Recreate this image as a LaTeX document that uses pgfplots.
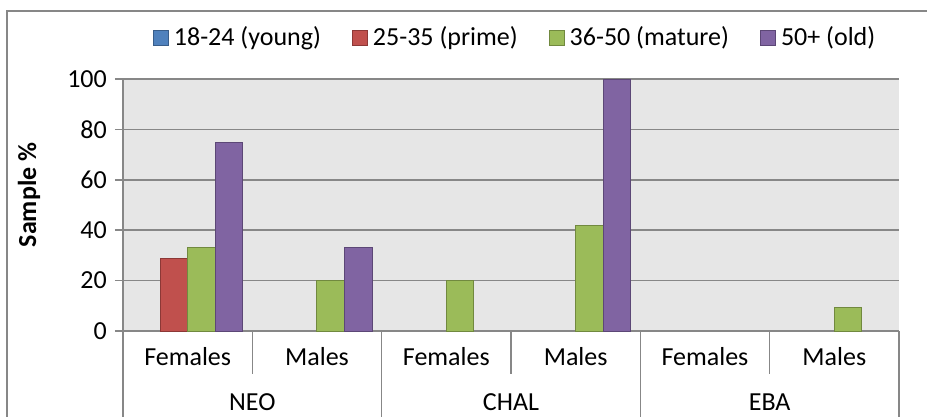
\documentclass[border=0pt]{standalone}
\usepackage{fontspec}
\setmainfont{Carlito}
\usepackage{pgfplots}
\pgfplotsset{compat=1.18}

\definecolor{xblue}{HTML}{4F81BD}   \definecolor{xblueD}{HTML}{385D8A}
\definecolor{xred}{HTML}{C0504D}    \definecolor{xredD}{HTML}{8C3836}
\definecolor{xgreen}{HTML}{9BBB59}  \definecolor{xgreenD}{HTML}{71893F}
\definecolor{xpurple}{HTML}{8064A2} \definecolor{xpurpleD}{HTML}{5C4776}
\definecolor{plotbg}{HTML}{E6E6E6}
\definecolor{linegray}{HTML}{878787}

\pgfplotsset{
  sqlegend/.style={legend image code/.code={%
    \draw[line width=1pt] (0pt,-7.5pt) rectangle (15pt,7.5pt);
    \path (18pt,0pt);}},
}

\begin{document}
\fontsize{26}{31}\selectfont
\begin{tikzpicture}[x=1pt,y=1pt]
\useasboundingbox (0,0) rectangle (927,416);
% chart border (cut off at bottom and right)
\draw[linegray, line width=2pt] (7,-5) -- (7,404.5) -- (927,404.5);

\begin{axis}[
    at={(123pt,85pt)}, anchor=south west,
    scale only axis,
    width=776pt, height=252pt,
    xmin=-0.5, xmax=5.5,
    ymin=0, ymax=100,
    ytick={0,20,...,100},
    xtick=\empty,
    axis x line*=bottom,
    axis y line*=left,
    axis line style={-, draw=linegray, line width=1.5pt},
    axis background/.style={fill=plotbg},
    ymajorgrids,
    grid style={draw=linegray, line width=1.5pt},
    tick align=outside,
    major tick length=8pt,
    ytick style={draw=linegray, line width=1.5pt},
    yticklabel style={inner sep=0pt, xshift=-8pt},
    /pgf/number format/assume math mode=true,
    ylabel={Sample \%},
    ylabel style={at={(axis description cs:-0.121,0.54)}, anchor=center, font=\bfseries},
    ybar=0pt, bar width=27.6pt,
    clip=false,
    legend columns=4,
    legend style={at={(axis description cs:0.0387,1.1627)}, anchor=west,
      draw=none, fill=none, inner sep=0pt,
      /tikz/every even column/.append style={column sep=29pt}},
  ]
  \addlegendimage{sqlegend, fill=xblue, draw=xblueD}
  \addlegendentry{18-24 (young)}

  \addplot[sqlegend, fill=xred, draw=xredD, line width=1pt, bar shift=-13.8pt]
    coordinates {(0,28.6)};
  \addlegendentry{25-35 (prime)}

  \addplot[sqlegend, fill=xgreen, draw=xgreenD, line width=1pt, bar shift=13.8pt]
    coordinates {(0,33.3) (1,20) (2,20) (3,41.7) (5,9.5)};
  \addlegendentry{36-50 (mature)}

  \addplot[sqlegend, fill=xpurple, draw=xpurpleD, line width=1pt, bar shift=41.4pt]
    coordinates {(0,75) (1,33.3) (3,100)};
  \addlegendentry{50+ (old)}

  % multi-level category axis
  \draw[linegray, line width=1.5pt]
    (axis cs:0.5,0) -- ++(0pt,-43pt)
    (axis cs:2.5,0) -- ++(0pt,-43pt)
    (axis cs:4.5,0) -- ++(0pt,-43pt)
    (axis cs:-0.5,0) -- ++(0pt,-90pt)
    (axis cs:1.5,0) -- ++(0pt,-90pt)
    (axis cs:3.5,0) -- ++(0pt,-90pt)
    (axis cs:5.5,0) -- ++(0pt,-90pt);
  \node[anchor=base] at ([yshift=-34pt]axis cs:0,0) {Females};
  \node[anchor=base] at ([yshift=-34pt]axis cs:1,0) {Males};
  \node[anchor=base] at ([yshift=-34pt]axis cs:2,0) {Females};
  \node[anchor=base] at ([yshift=-34pt]axis cs:3,0) {Males};
  \node[anchor=base] at ([yshift=-34pt]axis cs:4,0) {Females};
  \node[anchor=base] at ([yshift=-34pt]axis cs:5,0) {Males};
  \node[anchor=base] at ([yshift=-79pt]axis cs:0.5,0) {NEO};
  \node[anchor=base] at ([yshift=-79pt]axis cs:2.5,0) {CHAL};
  \node[anchor=base] at ([yshift=-79pt]axis cs:4.5,0) {EBA};
\end{axis}
\end{tikzpicture}
\end{document}
